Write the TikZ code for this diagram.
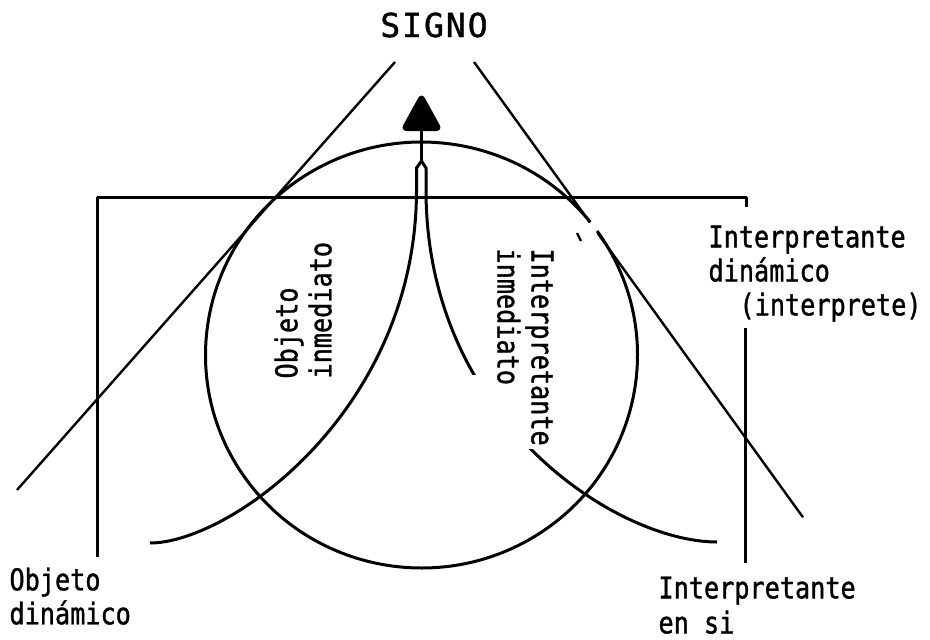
\documentclass[tikz,border=0pt]{standalone}
\usepackage{fontspec}
\newfontfamily\lab[FakeStretch=0.84,FakeBold=1.2]{DejaVu Sans Mono}
\newfontfamily\ttl[LetterSpace=6,FakeBold=1.2]{DejaVu Sans Mono}
\begin{document}
\begin{tikzpicture}[x=1pt,y=-1pt,line width=3pt,line join=round,
  lbl/.style={inner sep=0pt,align=left,font=\lab\fontsize{30}{34}\selectfont},
  thin/.style={line width=2.4pt}]
\useasboundingbox (0,0) rectangle (930,640);
% title
\node[inner sep=0pt,anchor=base,font=\ttl\fontsize{33}{33}\selectfont] (signo) at (434,37) {SIGNO};
% big circle (with small gap at right tangent point)
\coordinate (c) at (421.5,355);
\draw (c) ++(-35.6:216 and 213) arc[start angle=-35.6,end angle=321.4,x radius=216,y radius=213];
% tangent lines
\coordinate (l1) at (395,62);
\coordinate (l2) at (17,490);
\draw[thin] (l1) -- (l2);
\coordinate (r1) at (474,62);
\coordinate (r2) at (590,222.5);
\coordinate (r3) at (598,233.6);
\coordinate (r4) at (803,517.3);
\draw[thin] (r1) -- (r2);
\draw[thin] (r3) -- (r4);
\coordinate (d1) at (577,233);
\coordinate (d2) at (581,241);
\draw[thin] (d1) -- (d2);
% bracket
\coordinate (b1) at (97,557);
\coordinate (b2) at (97,197);
\coordinate (b3) at (746,197);
\coordinate (b4) at (746,207);
\draw (b1) -- (b2) -- (b3) -- (b4);
\coordinate (v1) at (745,328);
\coordinate (v2) at (745,563);
\draw (v1) -- (v2);
% arrow
\coordinate (tip) at (421.5,92);
\fill[rounded corners=7pt] (tip) -- (443,131) -- (400,131) -- cycle;
\coordinate (s1) at (421.5,125);
\coordinate (s2) at (421.5,161);
\draw (s1) -- (s2);
% left curve (objeto inmediato)
\coordinate (oe) at (150,543);
\draw (s2) -- (416.5,168) -- (416.5,190) .. controls (416.5,410) and (230,543) .. (oe);
% right curve (interpretante inmediato), with gap
\coordinate (ie) at (717,542);
\begin{scope}
\clip (0,0) rectangle (930,374);
\draw (s2) -- (426,168) -- (426,190) .. controls (426,420) and (617,542) .. (ie);
\end{scope}
\begin{scope}
\clip (0,449) rectangle (930,640);
\draw (s2) -- (426,168) -- (426,190) .. controls (426,420) and (617,542) .. (ie);
\end{scope}
% labels
\node[lbl,rotate=90,anchor=north west] (oi) at (273,380) {Objeto\\inmediato};
\node[lbl,rotate=-90,anchor=north west] (ii) at (555,247) {Interpretante\\inmediato};
\node[lbl,anchor=north west] (id) at (707,224) {Interpretante\\din\'amico\\\hspace*{31pt}(interprete)};
\node[lbl,anchor=north west] (od) at (8,566) {Objeto\\din\'amico};
\node[lbl,anchor=north west,font=\lab\fontsize{30}{35}\selectfont] (ie2) at (657,575) {Interpretante\\en si};
\end{tikzpicture}
\end{document}
